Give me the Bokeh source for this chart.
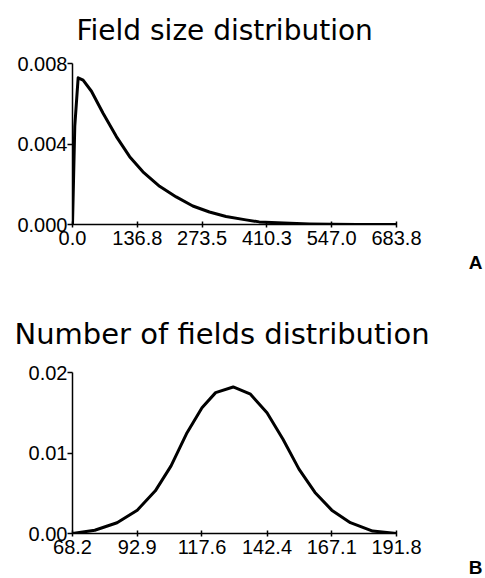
from bokeh.plotting import figure
from bokeh.layouts import column
from bokeh.models import FixedTicker, Title, NumeralTickFormatter
from bokeh.embed import file_html
from bokeh.resources import INLINE

# Panel A: field size distribution
size_x = [0, 4.8, 11.9, 22.4, 40, 64.5, 92.6, 120.6, 148.6, 183.8, 218.9, 253.9,
          289, 324, 366, 394, 446, 500, 547, 600, 683.8]
size_y = [0.0, 0.00487, 0.00729, 0.00717, 0.00662, 0.00553, 0.00437, 0.00337,
          0.00262, 0.0019, 0.00137, 0.00092, 0.00062, 0.0004, 0.00023, 0.00013,
          0.00007, 0.00003, 0.00001, 0.0, 0.0]
size_xticks = [0.0, 136.8, 273.5, 410.3, 547.0, 683.8]
size_yticks = [0.0, 0.004, 0.008]

# Panel B: number of fields distribution
num_x = [68.2, 76.7, 85.2, 92.9, 99.8, 105.8, 111.9, 117.6, 122.8, 129.5, 136.1,
         142.4, 148.5, 154.6, 160.7, 167.1, 174.2, 182.7, 191.8]
num_y = [0.0, 0.0004, 0.00134, 0.0029, 0.0053, 0.0084, 0.01252, 0.01563, 0.0175,
         0.0182, 0.0173, 0.0150, 0.0117, 0.0080, 0.0051, 0.0029, 0.00134, 0.0003, 0.0]
num_xticks = [68.2, 92.9, 117.6, 142.4, 167.1, 191.8]
num_yticks = [0.0, 0.01, 0.02]

FONT = "DejaVu Sans"
TICK_FONT = "Liberation Sans"


def panel(title, xs, ys, xticks, yticks, yfmt, letter, letter_standoff, title_standoff,
          title_offset, title_size, height, left, right, top, bottom, margin):
    p = figure(width=485, height=height, output_backend="svg", toolbar_location=None,
               x_range=(xticks[0], xticks[-1]), y_range=(yticks[0], yticks[-1]),
               min_border_left=left, min_border_right=right,
               min_border_top=top, min_border_bottom=bottom, title=title,
               margin=margin)
    p.title.text_font = FONT
    p.title.text_font_size = title_size
    p.title.text_font_style = "normal"
    p.title.text_color = "black"
    p.title.align = "left"
    p.title.offset = title_offset
    p.title.standoff = title_standoff
    p.outline_line_color = None
    p.grid.visible = False
    p.line(xs, ys, line_width=3, line_color="black", line_join="round")

    p.xaxis.ticker = FixedTicker(ticks=xticks)
    p.xaxis.major_label_overrides = {t: ("%.1f" % t) for t in xticks}
    p.yaxis.ticker = FixedTicker(ticks=yticks)
    p.yaxis.formatter = NumeralTickFormatter(format=yfmt)
    for ax in (p.xaxis[0], p.yaxis[0]):
        ax.axis_line_width = 1.5
        ax.axis_line_color = "black"
        ax.major_tick_line_color = "black"
        ax.major_tick_line_width = 1.5
        ax.minor_tick_line_color = None
        ax.major_label_text_font = TICK_FONT
        ax.major_label_text_font_size = "20px"
        ax.major_label_text_color = "black"
    p.xaxis.major_tick_in = 3
    p.xaxis.major_tick_out = 3
    p.xaxis.major_label_standoff = 3
    p.yaxis.major_tick_in = 0
    p.yaxis.major_tick_out = 5
    p.yaxis.major_label_standoff = 0

    p.add_layout(Title(text=letter, align="right", offset=-86, standoff=letter_standoff,
                       text_font=TICK_FONT, text_font_size="19px",
                       text_font_style="bold", text_color="black"), "below")
    return p


pa = panel("Field size distribution", size_x, size_y, size_xticks, size_yticks,
           "0.000", "A", 4, 33, 4, "28px", 297, 72, 89, 70, 66, (-7, 0, 0, 0))
pb = panel("Number of fields distribution", num_x, num_y, num_xticks, num_yticks,
           "0.00", "B", -3, 44, -58, "29px", 288, 60, 88, 82, 45, (0, 0, 0, 0))

layout = column(pa, pb, spacing=0)
open("out.html", "w").write(file_html(layout, INLINE))
